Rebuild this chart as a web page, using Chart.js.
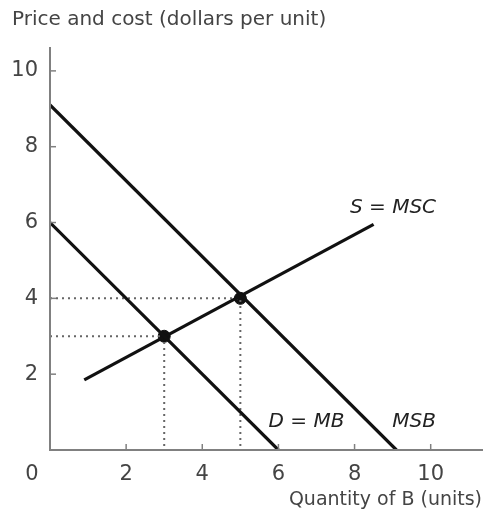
<!DOCTYPE html>
<html lang="en">
<head>
<meta charset="UTF-8">
<title>Quantity of B</title>
<script src="https://cdn.jsdelivr.net/npm/chart.js"></script>
<style>
  html, body { margin: 0; padding: 0; background: #fff; }
  #wrap { width: 483px; height: 524px; position: relative; }
</style>
</head>
<body>
<div id="wrap"><canvas id="chart" width="483" height="524"></canvas></div>
<script>
// curve end points (quantity, price)
const msbQty = [0, 9.1];
const msbPrice = [9.1, 0];
const mbQty = [0, 6];
const mbPrice = [6, 0];
const mscQty = [0.9, 8.5];
const mscPrice = [1.85, 5.95];
// equilibrium points
const eqQty = [3, 5];
const eqPrice = [3, 4];
// tick labels
const xTicks = [2, 4, 6, 8, 10];
const yTicks = [2, 4, 6, 8, 10];
// curve labels: [text, qty, price]
const curveLabels = [
  ['S = MSC', 7.88, 6.39],
  ['D = MB', 5.74, 0.74],
  ['MSB', 8.99, 0.74]
];

const FONT = '"DejaVu Sans", sans-serif';
const INK = '#111';
const AXIS = '#808080';
const TEXT = '#444';

function pts(xs, ys) {
  return xs.map((x, i) => ({ x: x, y: ys[i] }));
}

const lineStyle = { borderColor: INK, borderWidth: 3.2, pointRadius: 0, fill: false, tension: 0 };

const datasets = [
  Object.assign({ data: pts(msbQty, msbPrice) }, lineStyle),
  Object.assign({ data: pts(mbQty, mbPrice) }, lineStyle),
  Object.assign({ data: pts(mscQty, mscPrice) }, lineStyle)
];

// dotted guides from the axes to each equilibrium point
eqQty.forEach((q, i) => {
  const p = eqPrice[i];
  datasets.push({
    data: [{ x: 0, y: p }, { x: q, y: p }, { x: q, y: 0 }],
    borderColor: '#666', borderWidth: 2, borderDash: [2, 4],
    pointRadius: 0, fill: false, tension: 0
  });
});

datasets.push({
  data: pts(eqQty, eqPrice),
  showLine: false, borderColor: INK, backgroundColor: INK,
  pointStyle: 'circle', pointRadius: 6, pointBorderWidth: 1,
  pointBackgroundColor: INK, pointBorderColor: INK
});

const decorations = {
  id: 'decorations',
  afterDraw(chart) {
    const ctx = chart.ctx;
    const xs = chart.scales.x, ys = chart.scales.y;
    const x0 = xs.getPixelForValue(0), y0 = ys.getPixelForValue(0);
    ctx.save();
    // axes, x axis runs to the canvas edge
    ctx.strokeStyle = AXIS;
    ctx.lineWidth = 2;
    ctx.beginPath();
    ctx.moveTo(x0, chart.chartArea.top);
    ctx.lineTo(x0, y0);
    ctx.lineTo(chart.width, y0);
    ctx.stroke();
    // inward tick marks
    ctx.lineWidth = 1.5;
    xTicks.forEach(v => {
      const px = xs.getPixelForValue(v);
      ctx.beginPath(); ctx.moveTo(px, y0); ctx.lineTo(px, y0 - 6); ctx.stroke();
    });
    yTicks.forEach(v => {
      const py = ys.getPixelForValue(v);
      ctx.beginPath(); ctx.moveTo(x0, py); ctx.lineTo(x0 + 6, py); ctx.stroke();
    });
    // tick labels
    ctx.fillStyle = TEXT;
    ctx.font = '21px ' + FONT;
    ctx.textAlign = 'center';
    ctx.textBaseline = 'middle';
    xTicks.forEach(v => ctx.fillText(String(v), xs.getPixelForValue(v), y0 + 25));
    ctx.textAlign = 'right';
    yTicks.forEach(v => ctx.fillText(String(v), x0 - 12, ys.getPixelForValue(v)));
    ctx.textAlign = 'center';
    ctx.fillText('0', x0 - 18, y0 + 25);
    // axis titles
    ctx.font = '20px ' + FONT;
    ctx.textAlign = 'left';
    ctx.fillText('Price and cost (dollars per unit)', 12, 20);
    ctx.font = '19px ' + FONT;
    ctx.textAlign = 'right';
    ctx.fillText('Quantity of B (units)', 482, y0 + 50);
    // curve labels
    ctx.fillStyle = '#222';
    ctx.font = 'oblique 20px ' + FONT;
    ctx.textAlign = 'left';
    curveLabels.forEach(l => ctx.fillText(l[0], xs.getPixelForValue(l[1]), ys.getPixelForValue(l[2])));
    ctx.restore();
  }
};

new Chart(document.getElementById('chart'), {
  type: 'line',
  data: { datasets: datasets },
  options: {
    responsive: false,
    animation: false,
    layout: { padding: { top: 47, right: 0, left: 0, bottom: 0 } },
    plugins: { legend: { display: false }, tooltip: { enabled: false } },
    scales: {
      x: {
        type: 'linear', min: 0, max: 11.19,
        ticks: { display: false },
        grid: { display: false },
        border: { display: false },
        afterFit(s) { s.height = 74; }
      },
      y: {
        type: 'linear', min: 0, max: 10.63,
        ticks: { display: false },
        grid: { display: false },
        border: { display: false },
        afterFit(s) { s.width = 50; }
      }
    }
  },
  plugins: [decorations]
});
</script>
</body>
</html>
